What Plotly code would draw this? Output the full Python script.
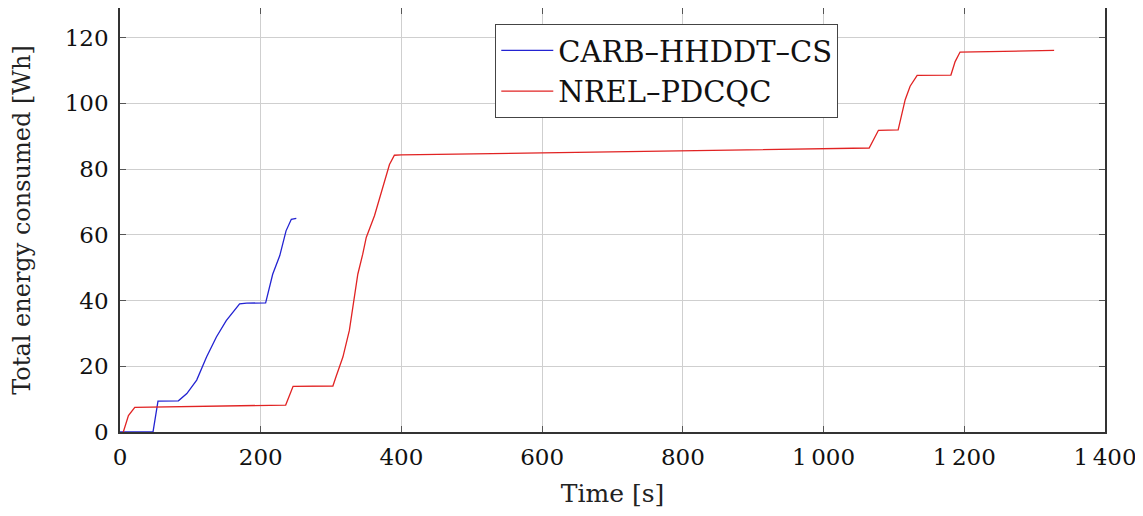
import plotly.graph_objects as go

carb_t = [0, 47, 54, 83, 95, 109, 123, 137, 151, 170, 180, 207, 217, 227, 236, 243.5, 250.6]
carb_e = [0, 0.1, 9.4, 9.5, 11.7, 15.8, 22.8, 28.9, 33.9, 39.0, 39.2, 39.3, 48.0, 53.6, 61.2, 64.7, 65.0]

nrel_t = [4.7, 12, 21, 235.5, 246, 302.6, 307, 316.8, 326, 333, 338, 345, 350, 361.7, 369, 376, 383, 390,
          400, 600, 800, 1000, 1064.8, 1078, 1106, 1116, 1123, 1133, 1181, 1187, 1194, 1327.7]
nrel_e = [0, 5.0, 7.5, 8.2, 13.9, 14.0, 16.8, 22.8, 30.9, 41.0, 48.0, 54.1, 59.2, 65.8, 71.3, 76.4, 81.4, 84.2,
          84.3, 84.9, 85.5, 86.1, 86.4, 91.8, 91.9, 101.1, 105.2, 108.5, 108.6, 112.7, 115.6, 116.1]

x_ticks = [0, 200, 400, 600, 800, 1000, 1200, 1400]
x_tick_labels = ["0", "200", "400", "600", "800", "1\u2009000", "1\u2009200", "1\u2009400"]
y_ticks = [0, 20, 40, 60, 80, 100, 120]

font_family = "DejaVu Serif"

fig = go.Figure()
fig.add_trace(go.Scatter(x=carb_t, y=carb_e, mode="lines", name="CARB\u2013HHDDT\u2013CS",
                         line=dict(color="rgb(35,35,210)", width=1.3)))
fig.add_trace(go.Scatter(x=nrel_t, y=nrel_e, mode="lines", name="NREL\u2013PDCQC",
                         line=dict(color="rgb(225,35,35)", width=1.3)))

axis_common = dict(showline=True, linecolor="#333", linewidth=1.5, mirror="ticks",
                   showgrid=True, gridcolor="#cfcfcf", gridwidth=1,
                   ticks="inside", ticklen=6, tickcolor="#555", zeroline=False,
                   automargin=False,
                   tickfont=dict(family=font_family, size=23, color="#111"))

fig.update_xaxes(range=[0, 1400], tickvals=x_ticks, ticktext=x_tick_labels, ticklabelstandoff=4,
                 title=dict(text="Time [s]", font=dict(family=font_family, size=25, color="#222"), standoff=15),
                 **axis_common)
fig.update_yaxes(range=[0, 129], tickvals=y_ticks, ticklabelstandoff=5,
                 title=dict(text="Total energy consumed [Wh]", font=dict(family=font_family, size=24, color="#222"), standoff=30),
                 **axis_common)

fig.update_layout(
    width=1143, height=516,
    margin=dict(l=112, r=46, t=0, b=92),
    plot_bgcolor="white", paper_bgcolor="white",
    legend=dict(x=0.381, y=0.962, xanchor="left", yanchor="top",
                bordercolor="#444", borderwidth=1, bgcolor="white",
                font=dict(family=font_family, size=29, color="#111"),
                itemwidth=52, tracegroupgap=0),
)

fig.write_html("out.html")
